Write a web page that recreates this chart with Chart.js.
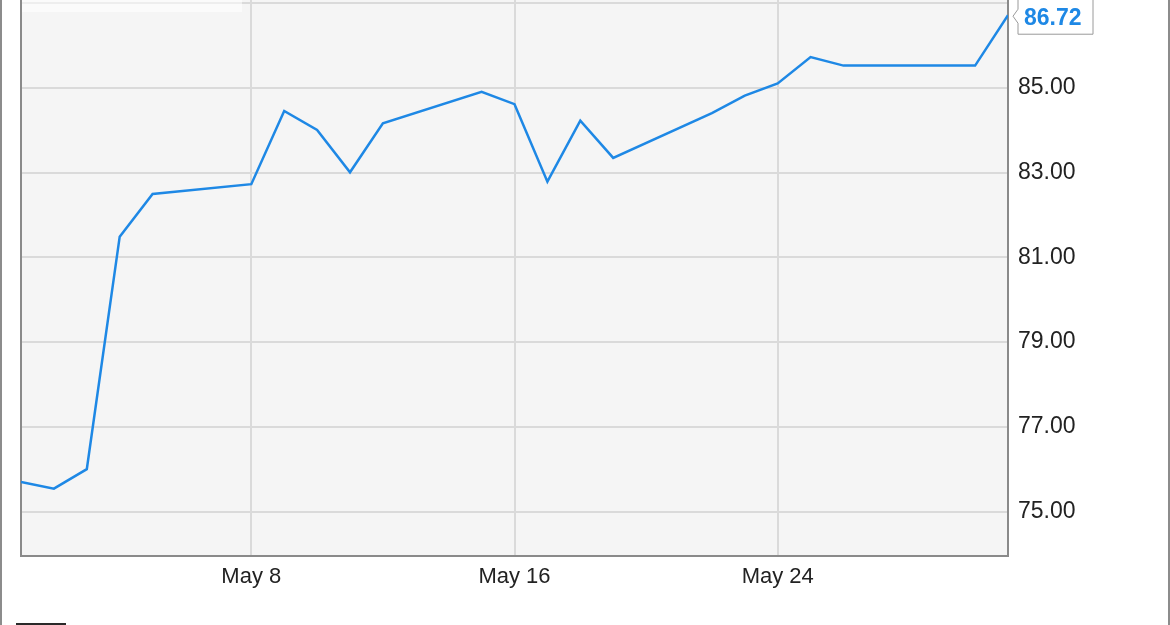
<!DOCTYPE html>
<html><head><meta charset="utf-8">
<script src="https://cdn.jsdelivr.net/npm/chart.js@4.4.0/dist/chart.umd.min.js"></script>
<style>
html,body{margin:0;padding:0;background:#fff;}
#wrap{position:relative;width:1170px;height:625px;overflow:hidden;background:#fff;}
#c{position:absolute;left:0;top:-60px;width:1170px;height:685px;}
#frameL{position:absolute;left:0;top:0;width:2px;height:625px;background:#8c8c8c;}
#frameR{position:absolute;left:1168px;top:0;width:2px;height:625px;background:#8c8c8c;}
#band{position:absolute;left:22px;top:0;width:220px;height:12px;background:rgba(255,255,255,0.55);}
#logo{position:absolute;left:16px;top:623px;width:50px;height:6px;background:#2a2a2a;}
</style></head><body>
<div id="wrap">
<canvas id="c" width="1170" height="685"></canvas>
<div id="band"></div><div id="frameL"></div><div id="frameR"></div><div id="logo"></div>
</div>
<script>
// ---- data (May 2017 trading days) ----
const monthName = 'May';
const days = [1, 2, 3, 4, 5, 8, 9, 10, 11, 12, 15, 16, 17, 18, 19, 22, 23, 24, 25, 26, 30, 31];
const prices = [75.70, 75.54, 76.00, 81.49, 82.50, 82.73, 84.46, 84.01, 83.01, 84.17,
                84.91, 84.62, 82.79, 84.23, 83.35, 84.41, 84.82, 85.11, 85.73, 85.53, 85.53, 86.72];
const xTickDays = [8, 16, 24];
const yTickValues = [75, 77, 79, 81, 83, 85, 87];
const xRange = [1, 31];
const yRange = [73.95, 88];

const lineColor = '#1e88e5';
const labelFont = {family: '"Liberation Sans", Arial, sans-serif', size: 22};

const points = days.map((d, i) => ({x: d, y: prices[i]}));

const plotFrame = {
  id: 'plotFrame',
  beforeDraw(chart) {
    const a = chart.chartArea, ctx = chart.ctx;
    ctx.save();
    ctx.fillStyle = '#f5f5f5';
    ctx.fillRect(a.left, a.top, a.right - a.left, a.bottom - a.top);
    ctx.restore();
  },
  beforeDatasetsDraw(chart) {
    const a = chart.chartArea, ctx = chart.ctx;
    ctx.save();
    ctx.strokeStyle = '#8a8a8a';
    ctx.lineWidth = 2;
    ctx.strokeRect(a.left, a.top, a.right - a.left, a.bottom - a.top);
    ctx.restore();
  },
  afterDraw(chart) {
    const meta = chart.getDatasetMeta(0);
    const last = meta.data[meta.data.length - 1];
    const px = last.x, py = last.y;
    const ctx = chart.ctx;
    const L = px + 10, R = px + 85, T = py - 17, B = py + 19;
    ctx.save();
    ctx.beginPath();
    ctx.moveTo(L, T);
    ctx.lineTo(R, T);
    ctx.lineTo(R, B);
    ctx.lineTo(L, B);
    ctx.lineTo(L, py + 8);
    ctx.lineTo(px + 5, py + 1);
    ctx.lineTo(L, py - 6);
    ctx.closePath();
    ctx.fillStyle = '#ffffff';
    ctx.fill();
    ctx.strokeStyle = '#9a9a9a';
    ctx.lineWidth = 1;
    ctx.stroke();
    ctx.fillStyle = lineColor;
    ctx.font = 'bold 23px "Liberation Sans", Arial, sans-serif';
    ctx.textAlign = 'left';
    ctx.textBaseline = 'middle';
    ctx.fillText(prices[prices.length - 1].toFixed(2), L + 6, py + 3);
    ctx.restore();
  }
};

new Chart(document.getElementById('c'), {
  type: 'line',
  data: {
    datasets: [{
      data: points,
      borderColor: lineColor,
      borderWidth: 2.5,
      pointRadius: 0,
      tension: 0,
      fill: false
    }]
  },
  options: {
    responsive: false,
    animation: false,
    devicePixelRatio: 1,
    layout: {padding: {left: 21, top: 21, right: 0, bottom: 0}},
    plugins: {legend: {display: false}, tooltip: {enabled: false}},
    scales: {
      x: {
        type: 'linear',
        min: xRange[0], max: xRange[1],
        afterBuildTicks(scale) { scale.ticks = xTickDays.map(v => ({value: v})); },
        afterFit(scale) { scale.height = 69; },
        ticks: {
          callback: v => monthName + ' ' + v,
          color: '#222', font: labelFont, padding: 8, maxRotation: 0
        },
        grid: {color: '#dadada', lineWidth: 2, drawTicks: false},
        border: {display: false}
      },
      y: {
        position: 'right',
        min: yRange[0], max: yRange[1],
        afterBuildTicks(scale) { scale.ticks = yTickValues.map(v => ({value: v})); },
        afterFit(scale) { scale.width = 162; scale.paddingTop = 0; scale.paddingBottom = 0; },
        ticks: {
          callback: v => Number(v).toFixed(2),
          color: '#222', font: {family: labelFont.family, size: 23}, padding: 10
        },
        grid: {color: '#dadada', lineWidth: 2, drawTicks: false},
        border: {display: false}
      }
    }
  },
  plugins: [plotFrame]
});
</script>
</body></html>
